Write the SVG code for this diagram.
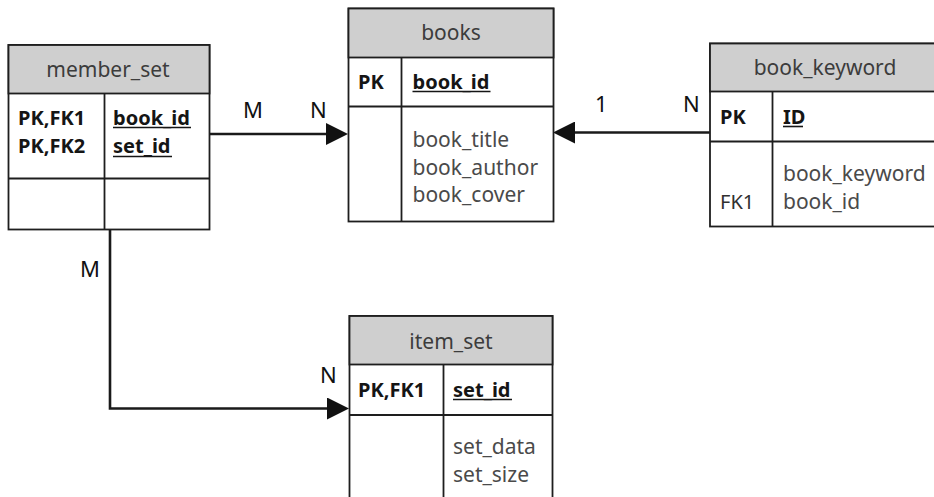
<svg xmlns="http://www.w3.org/2000/svg" width="934" height="497" viewBox="0 0 934 497">
<style>
.box{fill:#ffffff;stroke:#1e1e1e;stroke-width:1.8}
.hdr{fill:#cfcfcf;stroke:#1e1e1e;stroke-width:1.8}
.div{stroke:#1e1e1e;stroke-width:1.8;fill:none}
.title{font-family:"Noto Sans","Open Sans",sans-serif;font-size:21px;fill:#3c3c3c;text-anchor:middle}
.key{font-family:"Noto Sans","Open Sans",sans-serif;font-size:20px;font-weight:bold;fill:#151515}
.fld{font-family:"Noto Sans","Open Sans",sans-serif;font-size:21px;fill:#4a4a4a}
.ul{stroke:#151515;stroke-width:1.6}
.conn{stroke:#1a1a1a;stroke-width:2.6;fill:none}
.lbl{font-family:"Noto Sans","Open Sans",sans-serif;font-size:22px;fill:#111111}
</style>
<defs>
<marker id="arr" viewBox="0 0 22 22" refX="0" refY="11" markerWidth="22" markerHeight="22" markerUnits="userSpaceOnUse" orient="auto">
<path d="M0,0 L22,11 L0,22 z" fill="#111111"/>
</marker>
</defs>
<rect width="934" height="497" fill="#ffffff"/>

<g id="connectors">
<line class="conn" x1="209" y1="134" x2="326" y2="134" marker-end="url(#arr)"/>
<line class="conn" x1="710" y1="132.5" x2="575" y2="132.5" marker-end="url(#arr)"/>
<path class="conn" d="M110,229 V408.5 H327" marker-end="url(#arr)"/>
<text class="lbl" x="243" y="118">M</text>
<text class="lbl" x="310" y="118">N</text>
<text class="lbl" x="595" y="112">1</text>
<text class="lbl" x="683" y="112">N</text>
<text class="lbl" x="80" y="277">M</text>
<text class="lbl" x="320" y="383">N</text>
</g>

<g id="member_set">
<rect class="box" x="8.5" y="45" width="201" height="184.5"/>
<rect class="hdr" x="8.5" y="45" width="201" height="48.5"/>
<line class="div" x1="8.5" y1="178.5" x2="209.5" y2="178.5"/>
<line class="div" x1="104.5" y1="93.5" x2="104.5" y2="229.5"/>
<text class="title" x="108" y="77">member_set</text>
<text class="key" x="18" y="125">PK,FK1</text>
<text class="key" x="18" y="153">PK,FK2</text>
<text class="key" x="113" y="125">book_id</text>
<line class="ul" x1="113" y1="127.5" x2="191" y2="127.5"/>
<text class="key" x="113" y="153">set_id</text>
<line class="ul" x1="113" y1="156.5" x2="172" y2="156.5"/>
</g>

<g id="books">
<rect class="box" x="348.5" y="8.5" width="205" height="213"/>
<rect class="hdr" x="348.5" y="8.5" width="205" height="49"/>
<line class="div" x1="348.5" y1="106.5" x2="553.5" y2="106.5"/>
<line class="div" x1="401.5" y1="57.5" x2="401.5" y2="221.5"/>
<text class="title" x="451" y="40">books</text>
<text class="key" x="358" y="89">PK</text>
<text class="key" x="412.5" y="89">book_id</text>
<line class="ul" x1="412.5" y1="91.5" x2="490.5" y2="91.5"/>
<text class="fld" x="412.5" y="147">book_title</text>
<text class="fld" x="412.5" y="174.5">book_author</text>
<text class="fld" x="412.5" y="202">book_cover</text>
</g>

<g id="book_keyword">
<rect class="box" x="710" y="43.5" width="240" height="183"/>
<rect class="hdr" x="710" y="43.5" width="240" height="48"/>
<line class="div" x1="710" y1="141.5" x2="950" y2="141.5"/>
<line class="div" x1="772.5" y1="91.5" x2="772.5" y2="226.5"/>
<text class="title" x="825" y="75">book_keyword</text>
<text class="key" x="720" y="124">PK</text>
<text class="key" x="783" y="124">ID</text>
<line class="ul" x1="783" y1="126.5" x2="803" y2="126.5"/>
<text class="fld" x="783" y="181">book_keyword</text>
<text class="key" x="720" y="209" style="font-weight:normal;fill:#303030">FK1</text>
<text class="fld" x="783" y="209">book_id</text>
</g>

<g id="item_set">
<rect class="box" x="349.5" y="316" width="203" height="200"/>
<rect class="hdr" x="349.5" y="316" width="203" height="48.5"/>
<line class="div" x1="349.5" y1="415" x2="552.5" y2="415"/>
<line class="div" x1="443.5" y1="364.5" x2="443.5" y2="516"/>
<text class="title" x="451" y="349">item_set</text>
<text class="key" x="358" y="397">PK,FK1</text>
<text class="key" x="453" y="397">set_id</text>
<line class="ul" x1="453" y1="399.5" x2="512" y2="399.5"/>
<text class="fld" x="453" y="454">set_data</text>
<text class="fld" x="453" y="482">set_size</text>
</g>
</svg>
